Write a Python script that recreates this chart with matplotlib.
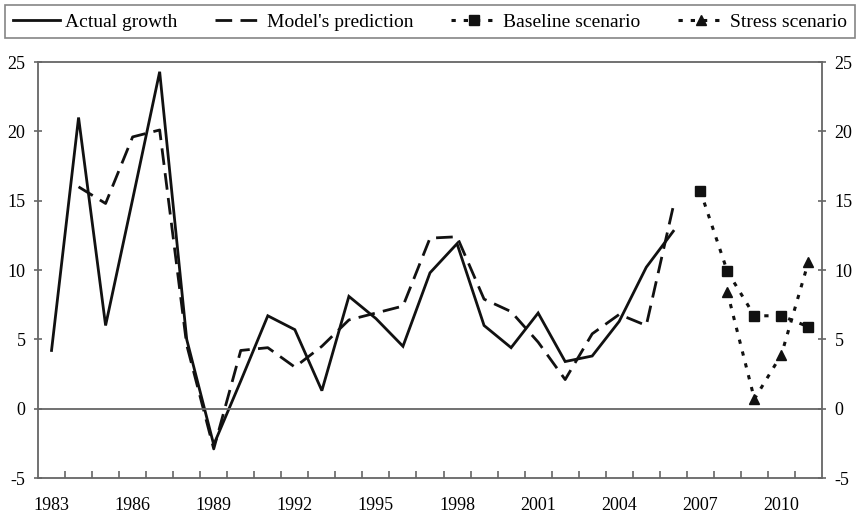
import matplotlib.pyplot as plt
from matplotlib.ticker import FixedLocator

plt.rcParams['font.family'] = ['Liberation Serif', 'DejaVu Serif']
plt.rcParams['axes.unicode_minus'] = False

# data
years = list(range(1983, 2012))
actual = [4.2, 21.0, 6.0, 15.1, 24.3, 5.0, -2.6, 2.0, 6.7, 5.7, 1.3, 8.1,
          6.5, 4.5, 9.8, 11.9, 6.0, 4.4, 6.9, 3.4, 3.8, 6.3, 10.2, 12.8]
predicted = [None, 16.0, 14.8, 19.6, 20.1, 4.6, -2.9, 4.2, 4.4, 3.0, 4.5, 6.4,
             6.9, 7.4, 12.3, 12.4, 7.9, 7.0, 4.8, 2.1, 5.4, 6.8, 6.0, 14.6]
base_years = [2007, 2008, 2009, 2010, 2011]
baseline = [15.7, 9.9, 6.7, 6.7, 5.9]
stress_years = [2008, 2009, 2010, 2011]
stress = [8.4, 0.7, 3.9, 10.6]

label_years = list(range(1983, 2012, 3))

idx = {y: i for i, y in enumerate(years)}

fig = plt.figure(figsize=(8.6, 5.17), dpi=100)
ax = fig.add_axes([0.0442, 0.0754, 0.9116, 0.8046])

x_act = [idx[y] for y in years[:len(actual)]]
ax.plot(x_act, actual, color='#111111', lw=2.0, solid_joinstyle='miter',
        label='Actual growth')

px = [idx[years[i]] for i, v in enumerate(predicted) if v is not None]
pv = [v for v in predicted if v is not None]
ax.plot(px, pv, color='#111111', lw=2.0, dashes=(6, 3),
        label="Model's prediction")

ax.plot([idx[y] for y in base_years], baseline, color='#111111', lw=2.2,
        dashes=(1.4, 2.6), marker='s', ms=7, label='Baseline scenario')
ax.plot([idx[y] for y in stress_years], stress, color='#111111', lw=2.2,
        dashes=(1.4, 2.6), marker='^', ms=7, label='Stress scenario')

ax.axhline(0, color='#666666', lw=1.3)

ax.set_xlim(-0.5, len(years) - 0.5)
ax.set_ylim(-5, 25)
ax.set_yticks([-5, 0, 5, 10, 15, 20, 25])
ax.set_xticks([idx[y] for y in label_years])
ax.set_xticklabels([str(y) for y in label_years])
ax.xaxis.set_minor_locator(FixedLocator([i + 0.5 for i in range(len(years) - 1)]))
ax.tick_params(axis='x', which='major', length=0, pad=14, labelsize=13)
ax.tick_params(axis='x', which='minor', direction='in', length=5,
               color='#666666', width=1.2)
ax.tick_params(axis='y', which='major', direction='inout', length=6,
               color='#666666', width=1.2, labelsize=13, pad=6,
               right=True, labelright=True)

for s in ax.spines.values():
    s.set_color('#666666')
    s.set_linewidth(1.3)

leg = fig.legend(loc='upper left', bbox_to_anchor=(0.006, 0.93, 0.988, 0.06),
                 mode='expand', ncol=4, fontsize=14, frameon=True,
                 fancybox=False, edgecolor='#666666', handlelength=2.4,
                 handletextpad=0.3, borderpad=0.4, columnspacing=1.0,
                 borderaxespad=0)
leg.get_frame().set_linewidth(1.2)

fig.savefig('out.png', dpi=100)
